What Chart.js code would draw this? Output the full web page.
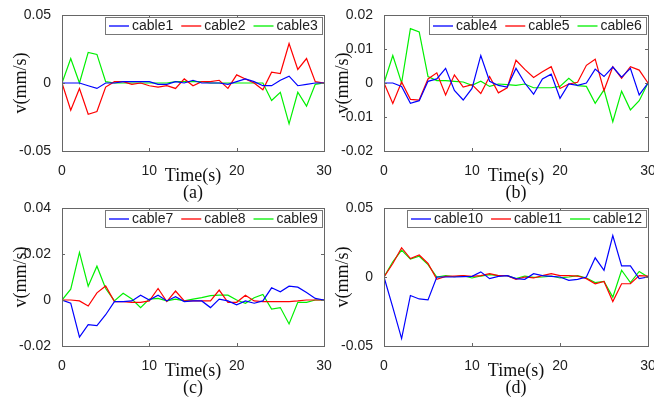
<!DOCTYPE html>
<html>
<head>
<meta charset="utf-8">
<script src="https://cdn.jsdelivr.net/npm/chart.js@4.4.1/dist/chart.umd.min.js"></script>
<style>
    body { margin: 0; background: #fff; overflow: hidden; }
    #main { position: relative; width: 654px; height: 403px; overflow: hidden; }
    canvas { position: absolute; }
</style>
</head>
<body>
<div id="main">
    <canvas id="chartA" width="340" height="202" style="left:0px;top:0px"></canvas>
    <canvas id="chartB" width="340" height="202" style="left:322px;top:0px"></canvas>
    <canvas id="chartC" width="340" height="204" style="left:0px;top:193px"></canvas>
    <canvas id="chartD" width="340" height="204" style="left:322px;top:193px"></canvas>
</div>
<script>
const time = [0, 1, 2, 3, 4, 5, 6, 7, 8, 9, 10, 11, 12, 13, 14, 15, 16, 17, 18, 19, 20, 21, 22, 23, 24, 25, 26, 27, 28, 29, 30];
const xTicks = [0, 10, 20, 30];

// (a)
const cable1 = [0, 0, 0, -0.002, -0.004, 0, 0, 0.001, 0.001, 0.001, 0.001, -0.001, -0.001, 0.001, 0, 0.002, 0, 0, 0, -0.001, 0.001, 0.003, 0.001, -0.002, -0.002, 0.002, 0.005, -0.002, -0.001, 0, 0];
const cable2 = [0, -0.020, -0.004, -0.023, -0.021, -0.003, 0.001, 0.001, -0.001, 0, -0.002, -0.003, -0.002, -0.004, 0.003, -0.002, 0.001, 0.001, 0.002, -0.004, 0.006, 0.003, 0, -0.005, 0.008, 0.007, 0.029, 0.010, 0.018, 0.001, 0];
const cable3 = [0, 0.018, 0, 0.0225, 0.021, 0.001, 0, 0, 0, 0, 0, 0, 0, 0.001, 0.001, 0.001, 0.001, 0, 0, 0, 0, 0, 0, 0, -0.0128, -0.0068, -0.030, -0.0068, -0.017, -0.001, 0];
const yTicksA = [-0.05, 0, 0.05];

// (b)
const cable4 = [0, 0, -0.001, -0.006, -0.0052, 0.0005, 0.0012, 0.0043, -0.0022, -0.005, -0.0016, 0.0081, 0.0005, -0.0007, -0.0012, 0.0043, 0, -0.0033, 0.0012, 0.0026, -0.0045, -0.0003, -0.0007, 0, 0.0041, 0.0019, 0.0047, 0.0017, 0.0043, -0.0035, 0];
const cable5 = [0, -0.006, 0.0003, -0.0048, -0.005, 0.0012, 0.003, -0.0035, 0.0024, -0.0012, -0.0005, -0.0031, 0.0019, -0.0029, -0.0014, 0.0067, 0.004, 0.0016, 0.0033, 0.0048, -0.0016, -0.0003, 0.0002, 0.0052, 0.007, -0.0022, 0.0048, 0.0014, 0.0048, 0.0038, 0];
const cable6 = [0, 0.0081, 0, 0.016, 0.015, 0.0019, 0.0007, 0.0007, 0.0005, 0.0003, -0.0007, 0.0005, -0.001, -0.0003, -0.0005, -0.0007, -0.0003, -0.0014, -0.0014, -0.0014, -0.001, 0.0014, -0.0008, -0.001, -0.006, -0.002, -0.0114, -0.0024, -0.0079, -0.0052, 0];
const yTicksB = [-0.02, -0.01, 0, 0.01, 0.02];

// (c)
const cable7 = [0, -0.0014, -0.0161, -0.0107, -0.0111, -0.0064, -0.0007, -0.0007, -0.0004, 0.0021, 0, 0.0021, -0.0004, 0.0014, -0.0007, -0.0004, -0.0004, -0.0033, 0.0004, -0.0004, -0.0021, -0.0004, -0.0014, -0.0004, 0.0053, 0.0036, 0.006, 0.0056, 0.0033, 0.0007, 0];
const cable8 = [0, 0, -0.0004, -0.0026, 0.0031, 0.0061, -0.0007, -0.0007, -0.001, -0.001, -0.0004, 0.005, -0.0007, 0.0039, -0.0004, -0.0004, -0.0004, -0.0004, 0.0043, -0.001, -0.001, 0.0021, -0.0004, -0.0007, -0.0007, -0.0007, -0.0007, -0.0004, 0, 0, 0];
const cable9 = [0, 0.0047, 0.0207, 0.006, 0.0147, 0.005, -0.0004, 0.0029, 0.0004, -0.0033, 0.0004, 0.0007, -0.0004, 0.0004, -0.0004, 0.0004, 0.001, 0.0019, 0.0021, 0.0021, 0, -0.0014, 0.001, 0.0024, -0.0039, -0.0033, -0.0104, -0.001, -0.001, 0, 0];
const yTicksC = [-0.02, 0, 0.02, 0.04];

// (d)
const cable10 = [0, -0.022, -0.0446, -0.0134, -0.0159, -0.0166, 0, 0, 0, 0.0002, 0.0005, 0.0037, -0.0012, 0.0005, 0.001, -0.0012, -0.0017, 0.0024, 0.001, 0.0005, 0, -0.0024, -0.0017, 0, 0.0139, 0.0049, 0.030, 0.008, 0.008, -0.0012, 0];
const cable11 = [0, 0.0098, 0.0212, 0.0134, 0.0159, 0.0098, -0.0017, 0.0005, 0.0007, 0.001, 0.0005, 0.001, 0.0024, 0.001, 0.001, -0.0017, 0, -0.0007, 0.001, 0.0024, 0.001, 0.001, 0.0007, -0.0012, -0.0049, -0.0032, -0.0178, -0.0049, -0.0049, 0.001, 0.0007];
const cable12 = [0, 0.011, 0.0195, 0.013, 0.015, 0.009, 0, 0.001, 0.0002, 0.001, -0.0007, 0.0007, 0.0017, 0.001, 0.001, -0.0012, 0.0007, -0.0002, 0, 0.0007, -0.0007, 0, 0.001, -0.0007, -0.004, -0.0032, -0.0146, 0.0049, -0.004, 0.004, 0];
const yTicksD = [-0.05, 0, 0.05];

const colors = ['#0000ff', '#ff0000', '#00f000'];
const sansFont = '"Liberation Sans", Arial, sans-serif';
const serifFont = '"Liberation Serif", "Times New Roman", serif';

// frame, inward tick marks and the boxed legend (matlab look)
const framePlugin = {
    id: 'frame',
    afterDraw(chart) {
        const ctx = chart.ctx;
        const a = chart.chartArea;
        const x = chart.scales.x;
        const y = chart.scales.y;
        ctx.save();
        ctx.strokeStyle = '#666';
        ctx.lineWidth = 1;
        ctx.strokeRect(Math.round(a.left) + 0.5, Math.round(a.top) + 0.5, Math.round(a.right - a.left), Math.round(a.bottom - a.top));
        ctx.beginPath();
        x.ticks.forEach(function (t) {
            const px = Math.round(x.getPixelForValue(t.value)) + 0.5;
            ctx.moveTo(px, a.bottom); ctx.lineTo(px, a.bottom - 3);
            ctx.moveTo(px, a.top); ctx.lineTo(px, a.top + 3);
        });
        y.ticks.forEach(function (t) {
            const py = Math.round(y.getPixelForValue(t.value)) + 0.5;
            ctx.moveTo(a.left, py); ctx.lineTo(a.left + 3, py);
            ctx.moveTo(a.right, py); ctx.lineTo(a.right - 3, py);
        });
        ctx.stroke();

        // legend
        ctx.font = '14px ' + sansFont;
        ctx.textBaseline = 'middle';
        const sets = chart.data.datasets;
        const lineLen = 20, gap = 3, entryGap = 8, pad = 4;
        let total = pad * 2;
        sets.forEach(function (ds, i) {
            total += lineLen + gap + ctx.measureText(ds.label).width;
            if (i < sets.length - 1) total += entryGap;
        });
        const boxRight = Math.round(a.right) - 2;
        const boxTop = Math.round(a.top) + 2;
        const boxLeft = boxRight - Math.round(total);
        const boxH = 17;
        ctx.fillStyle = '#fff';
        ctx.fillRect(boxLeft, boxTop, boxRight - boxLeft, boxH);
        ctx.strokeStyle = '#777';
        ctx.strokeRect(boxLeft + 0.5, boxTop + 0.5, boxRight - boxLeft, boxH);
        let cx = boxLeft + pad;
        const cy = boxTop + boxH / 2 + 0.5;
        sets.forEach(function (ds) {
            ctx.strokeStyle = ds.borderColor;
            ctx.lineWidth = 1.3;
            ctx.beginPath();
            ctx.moveTo(cx, cy); ctx.lineTo(cx + lineLen, cy);
            ctx.stroke();
            cx += lineLen + gap;
            ctx.fillStyle = '#222';
            ctx.fillText(ds.label, cx, cy + 0.5);
            cx += ctx.measureText(ds.label).width + entryGap;
        });
        ctx.restore();
    }
};

function makePanel(id, names, series, yTicks, tag, padRight) {
    const datasets = series.map(function (vals, i) {
        return {
            label: names[i],
            data: vals.map(function (v, k) { return { x: time[k], y: v }; }),
            borderColor: colors[i],
            borderWidth: 1.2,
            pointRadius: 0,
            tension: 0,
            fill: false
        };
    });

    new Chart(document.getElementById(id), {
        type: 'line',
        data: { datasets: datasets },
        options: {
            responsive: false,
            animation: false,
            devicePixelRatio: 1,
            layout: { padding: { top: 15, right: padRight, left: 0, bottom: 0 } },
            plugins: { legend: { display: false }, tooltip: { enabled: false } },
            scales: {
                x: {
                    type: 'linear',
                    min: 0,
                    max: 30,
                    afterBuildTicks: function (s) { s.ticks = xTicks.map(function (v) { return { value: v }; }); },
                    afterFit: function (s) { s.height = 51; },
                    grid: { display: false },
                    border: { display: false },
                    ticks: {
                        padding: 4,
                        color: '#222',
                        font: { family: sansFont, size: 14 },
                        maxRotation: 0,
                        callback: function (v) { return String(v); }
                    },
                    title: {
                        display: true,
                        text: ['Time(s)', '(' + tag + ')'],
                        color: '#111',
                        font: { family: serifFont, size: 18, lineHeight: 0.95 },
                        padding: { top: 0, bottom: 0 }
                    }
                },
                y: {
                    min: yTicks[0],
                    max: yTicks[yTicks.length - 1],
                    afterBuildTicks: function (s) { s.ticks = yTicks.map(function (v) { return { value: v }; }); },
                    afterFit: function (s) { s.width = 62; },
                    grid: { display: false },
                    border: { display: false },
                    ticks: {
                        padding: 3,
                        color: '#222',
                        font: { family: sansFont, size: 14 },
                        callback: function (v) { return String(v); }
                    },
                    title: {
                        display: true,
                        text: 'v(mm/s)',
                        color: '#111',
                        font: { family: serifFont, size: 18, lineHeight: 1 },
                        padding: { top: 12, bottom: 0 }
                    }
                }
            }
        },
        plugins: [framePlugin]
    });
}

makePanel('chartA', ['cable1', 'cable2', 'cable3'], [cable1, cable2, cable3], yTicksA, 'a', 16);
makePanel('chartB', ['cable4', 'cable5', 'cable6'], [cable4, cable5, cable6], yTicksB, 'b', 14);
makePanel('chartC', ['cable7', 'cable8', 'cable9'], [cable7, cable8, cable9], yTicksC, 'c', 16);
makePanel('chartD', ['cable10', 'cable11', 'cable12'], [cable10, cable11, cable12], yTicksD, 'd', 14);
</script>
</body>
</html>
